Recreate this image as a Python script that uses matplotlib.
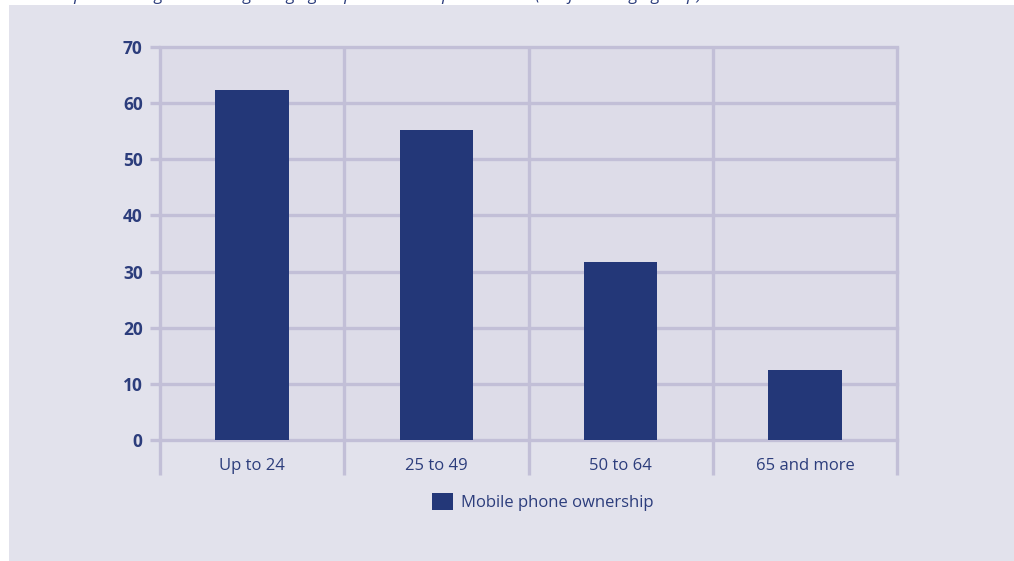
import matplotlib
matplotlib.use("Agg")
import matplotlib.pyplot as plt
from matplotlib.patches import Rectangle

# age groups and share of each group owning a mobile phone (%)
age_groups = ["Up to 24", "25 to 49", "50 to 64", "65 and more"]
ownership = [62.3, 55.2, 31.7, 12.5]
y_ticks = [0, 10, 20, 30, 40, 50, 60, 70]
series_name = "Mobile phone ownership"
title = "Mobile phone usage according to age group in the European Union (% of each age group)"

navy = "#233778"
text_col = "#2C3D7C"
grid_col = "#C2BFD7"
panel_col = "#E2E2EC"
plot_col = "#DDDCE8"

plt.rcParams["font.family"] = ["Open Sans", "DejaVu Sans"]

W, H = 1014, 561
fig = plt.figure(figsize=(W / 100, H / 100), dpi=100)
fig.patch.set_facecolor("white")

# lavender background panel, kept behind the axes
fig.add_artist(Rectangle((9 / W, 0), 1 - 9 / W, (H - 5) / H,
                         transform=fig.transFigure, facecolor=panel_col,
                         edgecolor="none", zorder=-10))

# title sits above the top edge, only its descenders show
fig.text(18 / W, 1.0, title, ha="left", va="baseline", fontsize=12.5,
         style="italic", color=text_col)

ax = fig.add_axes([160 / W, (H - 440) / H, 737 / W, 393 / H])
ax.set_facecolor(plot_col)
for s in ax.spines.values():
    s.set_visible(False)

x = range(len(age_groups))
ax.bar(x, ownership, width=0.4, color=navy, zorder=3)

ax.set_xlim(-0.5, len(age_groups) - 0.5)
ax.set_ylim(0, 70)

# horizontal grid lines, drawn over the edges so the outer ones are not halved
for v in y_ticks:
    ax.axhline(v, color=grid_col, lw=2.4, zorder=2, clip_on=False)

# category separators reaching down past the baseline
ax.vlines([i - 0.5 for i in range(len(age_groups) + 1)], -6.2, 70,
          color=grid_col, lw=2.4, zorder=2, clip_on=False)

ax.set_yticks(y_ticks)
ax.set_yticklabels([str(v) for v in y_ticks], fontsize=12.5, fontweight="bold",
                   color=text_col)
ax.tick_params(axis="y", length=7.5, width=2.4, color=grid_col, pad=5)

ax.set_xticks(list(x))
ax.set_xticklabels(age_groups, fontsize=12, color=text_col)
ax.tick_params(axis="x", length=0, pad=13)

# legend
lg = fig.legend(handles=[Rectangle((0, 0), 1, 1, facecolor=navy)],
                labels=[series_name], loc="center",
                bbox_to_anchor=(543 / W, (H - 502) / H), frameon=False,
                fontsize=12, handlelength=1.25, handleheight=1.25,
                handletextpad=0.5)
for t in lg.get_texts():
    t.set_color(text_col)

fig.savefig("out.png", dpi=100, facecolor=fig.get_facecolor())
